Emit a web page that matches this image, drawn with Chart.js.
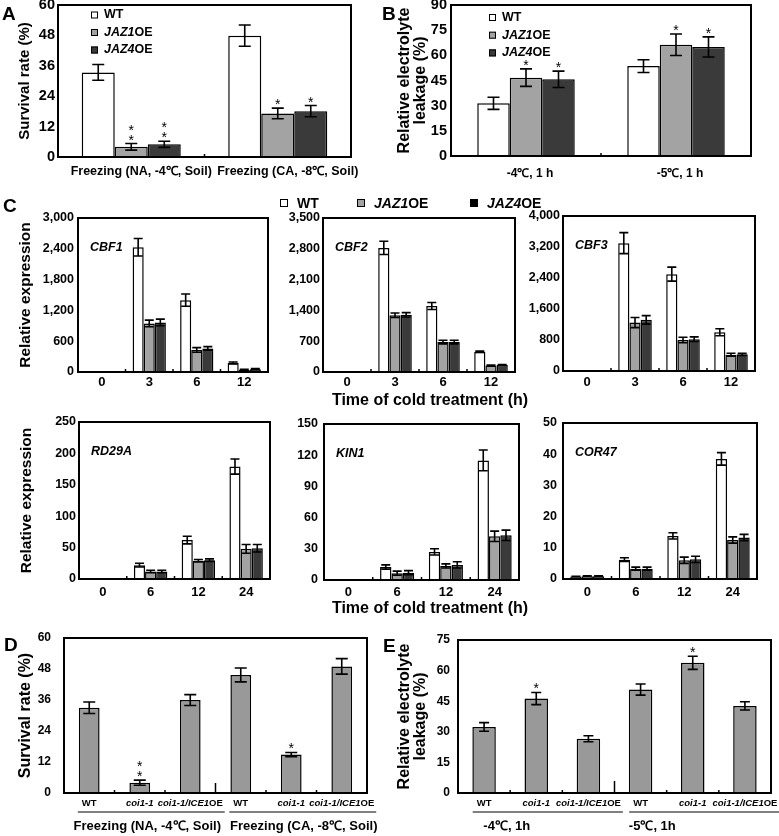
<!DOCTYPE html>
<html>
<head>
<meta charset="utf-8">
<script src="https://cdn.jsdelivr.net/npm/chart.js@4.4.1/dist/chart.umd.min.js"></script>
<style>
  body { margin: 0; background: #fff; }
  #fig { position: relative; width: 779px; height: 836px; overflow: hidden; background: #fff;
         font-family: "Liberation Sans", Arial, sans-serif; }
  #fig canvas { position: absolute; }
  .txt { position: absolute; font-weight: bold; line-height: 1; white-space: nowrap; color: #000; }
  .sq { position: absolute; width: 6px; height: 6px; border: 1px solid #000; }
</style>
</head>
<body>
<div id="fig"></div>
<script>
// ---- data ----
const seriesNames = ['WT', 'JAZ1OE', 'JAZ4OE'];

// A: survival rate
const freezeLabels = ['Freezing (NA, -4℃, Soil)', 'Freezing (CA, -8℃, Soil)'];
const aMean = [[33.4, 47.9], [4.0, 17.2], [5.0, 18.1]];
const aErr = [[3.1, 4.2], [1.3, 2.1], [1.2, 2.2]];
const aStars = [[0, 0], [2, 1], [2, 1]];
const aTicks = [0, 12, 24, 36, 48, 60];

// B: electrolyte leakage
const leakLabels = ['-4℃, 1 h', '-5℃, 1 h'];
const bMean = [[31.4, 53.6], [46.7, 66.3], [45.7, 65.0]];
const bErr = [[3.6, 3.8], [5.2, 6.4], [4.9, 6.0]];
const bStars = [[0, 0], [1, 1], [1, 1]];
const bTicks = [0, 15, 30, 45, 60, 75, 90];

// C: relative expression
const cbfHours = ['0', '3', '6', '12'];
const corHours = ['0', '6', '12', '24'];
const cbf1Mean = [[5, 2430, 1400, 176], [5, 946, 430, 45], [5, 965, 460, 55]];
const cbf1Err = [[0, 170, 120, 20], [0, 65, 45, 10], [0, 65, 35, 10]];
const cbf1Ticks = [0, 600, 1200, 1800, 2400, 3000];
const cbf2Mean = [[5, 2820, 1500, 460], [5, 1290, 680, 150], [5, 1300, 680, 160]];
const cbf2Err = [[0, 150, 80, 15], [0, 50, 40, 10], [0, 50, 40, 10]];
const cbf2Ticks = [0, 700, 1400, 2100, 2800, 3500];
const cbf3Mean = [[5, 3300, 2500, 1000], [5, 1250, 800, 420], [5, 1320, 820, 430]];
const cbf3Err = [[0, 270, 180, 90], [0, 130, 70, 40], [0, 110, 60, 30]];
const cbf3Ticks = [0, 800, 1600, 2400, 3200, 4000];
const rd29aMean = [[1, 22, 62, 179], [1, 12, 29, 48], [1, 12, 30, 49]];
const rd29aErr = [[0, 3, 6, 12], [0, 2, 2, 7], [0, 2, 2, 6]];
const rd29aTicks = [0, 50, 100, 150, 200, 250];
const kin1Mean = [[1, 12.5, 27, 115], [1, 6.5, 13.5, 42], [1, 7, 14.5, 43]];
const kin1Err = [[0, 2, 3, 10], [0, 2, 2, 5], [0, 2, 3, 5]];
const kin1Ticks = [0, 30, 60, 90, 120, 150];
const cor47Mean = [[0.8, 6.2, 13.8, 38.5], [0.9, 3.3, 6.0, 12.5], [0.9, 3.3, 6.3, 13.3]];
const cor47Err = [[0.1, 0.6, 1.0, 2.0], [0.1, 0.5, 1.0, 1.0], [0.1, 0.5, 1.0, 1.0]];
const cor47Ticks = [0, 10, 20, 30, 40, 50];

// D/E: coi1-1 and ICE1 overexpression
const genotypes = ['WT', 'coi1-1', 'coi1-1/ICE1OE', 'WT', 'coi1-1', 'coi1-1/ICE1OE'];
const dMean = [33.0, 4.0, 36.0, 45.7, 14.9, 49.0];
const dErr = [2.2, 1.0, 2.1, 2.7, 0.8, 3.0];
const dStars = [0, 2, 0, 0, 1, 0];
const eMean = [32.4, 46.3, 26.6, 50.7, 63.8, 42.7];
const eErr = [2.1, 3.0, 1.5, 2.7, 3.2, 2.0];
const eStars = [0, 1, 0, 0, 1, 0];
const eTicks = [0, 15, 30, 45, 60, 75];
const eGroups = ['-4℃, 1h', '-5℃, 1h'];

// ---- styling ----
const FONT = '"Liberation Sans", Arial, sans-serif';
const seriesFill = ['#ffffff', '#a3a3a3', '#3a3a3a'];
const singleFill = ['#999999'];

const fig = document.getElementById('fig');

function splitLabel(t) {
  if (t === 'WT') return [{ t, it: false }];
  const m = t.match(/^(.+?)(OE)$/);
  if (m) return [{ t: m[1], it: true }, { t: m[2], it: false }];
  return [{ t, it: true }];
}
function labelHtml(t) {
  return splitLabel(t).map(s => s.it ? `<i>${s.t}</i>` : s.t).join('');
}

function drawSegs(ctx, segs, x, y, size, align) {
  const fonts = segs.map(s => `${s.it ? 'italic ' : ''}bold ${size}px ${FONT}`);
  const widths = segs.map((s, i) => { ctx.font = fonts[i]; return ctx.measureText(s.t).width; });
  const total = widths.reduce((a, b) => a + b, 0);
  let cx = align === 'center' ? x - total / 2 : x;
  const start = cx;
  ctx.textAlign = 'left';
  ctx.textBaseline = 'middle';
  segs.forEach((s, i) => { ctx.font = fonts[i]; ctx.fillText(s.t, cx, y); cx += widths[i]; });
  return [start, start + total];
}

function addText(html, x, yMid, size, align) {
  const d = document.createElement('div');
  d.className = 'txt';
  d.innerHTML = html;
  d.style.fontSize = size + 'px';
  d.style.top = (yMid - size / 2) + 'px';
  if (align === 'center') {
    d.style.left = (x - 300) + 'px';
    d.style.width = '600px';
    d.style.textAlign = 'center';
  } else {
    d.style.left = x + 'px';
  }
  fig.appendChild(d);
}

function figPlugin(p) {
  return {
    id: 'fig',
    afterDatasetsDraw(chart) {
      const { ctx, chartArea: ca, scales: { x, y } } = chart;
      ctx.save();
      ctx.strokeStyle = '#000';
      ctx.fillStyle = '#000';
      ctx.lineWidth = 2;
      ctx.strokeRect(ca.left, ca.top, ca.right - ca.left, ca.bottom - ca.top);

      // small inward ticks between categories
      ctx.lineWidth = 1.5;
      for (let j = 1; j < p.labels.length; j++) {
        const px = (x.getPixelForValue(j - 1) + x.getPixelForValue(j)) / 2;
        const len = j === p.sepAt ? p.sepLen : 3;
        ctx.beginPath();
        ctx.moveTo(px, ca.bottom);
        ctx.lineTo(px, ca.bottom - len);
        ctx.stroke();
      }

      // error bars and significance stars
      ctx.lineWidth = 1.6;
      p.means.forEach((ser, i) => {
        const meta = chart.getDatasetMeta(i);
        ser.forEach((v, j) => {
          const e = p.errs[i][j];
          const bx = meta.data[j].x;
          const yt = y.getPixelForValue(v + e);
          if (e > 0) {
            const yb = y.getPixelForValue(Math.max(0, v - e));
            ctx.beginPath();
            ctx.moveTo(bx, yt); ctx.lineTo(bx, yb);
            ctx.moveTo(bx - p.cap, yt); ctx.lineTo(bx + p.cap, yt);
            ctx.moveTo(bx - p.cap, yb); ctx.lineTo(bx + p.cap, yb);
            ctx.stroke();
          }
          const n = p.stars ? p.stars[i][j] : 0;
          ctx.font = `14px ${FONT}`;
          ctx.textAlign = 'center';
          ctx.textBaseline = 'alphabetic';
          for (let k = 0; k < n; k++) ctx.fillText('*', bx, yt + 1 - k * 10);
        });
      });

      // gene name inside plot
      if (p.gene) drawSegs(ctx, [{ t: p.gene, it: true }], ca.left + 12, ca.top + 30, 12.5, 'left');

      // legend inside plot
      if (p.legend) {
        const L = p.legend;
        p.names.forEach((nm, i) => {
          const sx = ca.left + L.dx, sy = ca.top + L.dy + i * L.step;
          ctx.fillStyle = p.fills[i];
          ctx.fillRect(sx, sy - 3.5, 7, 7);
          ctx.lineWidth = 1;
          ctx.strokeRect(sx + 0.5, sy - 3, 6, 6);
          ctx.fillStyle = '#000';
          drawSegs(ctx, splitLabel(nm), sx + 13, sy, L.font, 'left');
        });
      }

      // custom category labels with group lines (D, E)
      if (p.customX) {
        const c = p.customX;
        const per = p.labels.length / c.groups.length;
        const ext = [];
        p.labels.forEach((lab, j) => {
          const [a, b] = drawSegs(ctx, splitLabel(lab), x.getPixelForValue(j), ca.bottom + c.labY, c.font, 'center');
          const g = Math.floor(j / per);
          ext[g] = ext[g] ? [Math.min(ext[g][0], a), Math.max(ext[g][1], b)] : [a, b];
        });
        ctx.lineWidth = 1;
        c.groups.forEach((gl, g) => {
          const [a, b] = ext[g];
          ctx.beginPath();
          ctx.moveTo(a - 4, ca.bottom + c.lineY);
          ctx.lineTo(b + 2, ca.bottom + c.lineY);
          ctx.stroke();
          drawSegs(ctx, [{ t: gl, it: false }], (a + b) / 2 + (c.shift ? c.shift[g] : 0), ca.bottom + c.groupY, c.groupFont, 'center');
        });
      }
      ctx.restore();
    }
  };
}

function makePanel(p) {
  const pt = p.pt ?? 10, pr = p.pr ?? 6;
  const yw = p.plot.l - p.left;
  const w = p.plot.r - p.left + pr;
  const h = p.plot.b - p.plot.t + pt + p.xh;
  const cv = document.createElement('canvas');
  cv.width = w; cv.height = h;
  cv.style.left = p.left + 'px';
  cv.style.top = (p.plot.t - pt) + 'px';
  cv.style.width = w + 'px'; cv.style.height = h + 'px';
  fig.appendChild(cv);

  const datasets = p.means.map((m, i) => ({
    label: p.names[i],
    data: m,
    backgroundColor: p.fills[i],
    borderColor: '#000',
    borderWidth: 1.5,
    barPercentage: 1,
    categoryPercentage: p.catPct,
  }));

  new Chart(cv, {
    type: 'bar',
    data: { labels: p.labels, datasets },
    options: {
      responsive: false,
      animation: false,
      devicePixelRatio: 1,
      layout: { padding: { top: pt, right: pr, left: 0, bottom: 0 } },
      plugins: { legend: { display: false }, tooltip: { enabled: false } },
      scales: {
        x: {
          grid: { display: false, drawTicks: false },
          border: { color: '#000', width: 2 },
          ticks: {
            display: !p.customX, autoSkip: false, maxRotation: 0, minRotation: 0,
            color: '#000', padding: p.xPad ?? 4, labelOffset: p.xShift ?? 0,
            font: { family: FONT, size: p.xFont ?? 13, weight: 'bold' },
          },
          afterFit(s) { s.height = p.xh; s.paddingLeft = 0; s.paddingRight = 0; },
        },
        y: {
          min: 0, max: p.ticks[p.ticks.length - 1],
          grid: { display: false, drawTicks: false },
          border: { color: '#000', width: 2 },
          afterBuildTicks(s) { s.ticks = p.ticks.map(v => ({ value: v })); },
          ticks: {
            color: '#000', padding: p.tickPad ?? 4,
            font: { family: FONT, size: p.tickFont ?? 12.5, weight: 'bold' },
            callback: v => Number(v).toLocaleString('en-US'),
          },
          title: {
            display: !!p.yTitle, text: p.yTitle, color: '#000',
            font: { family: FONT, size: p.titleFont ?? 15, weight: 'bold', lineHeight: p.titleLH ?? 1.2 },
            padding: { top: p.titlePad ?? 4, bottom: 0 },
          },
          afterFit(s) { s.width = yw; s.paddingTop = 0; s.paddingBottom = 0; },
        },
      },
    },
    plugins: [figPlugin(p)],
  });
}

const three = { names: seriesNames, fills: seriesFill };
const cRow = { ...three, catPct: 0.7, tickFont: 12.5, xFont: 13, cap: 4.5 };
const one = { names: ['value'], fills: singleFill };

const panels = [
  { ...three, left: 0, plot: { l: 58, t: 5, r: 351, b: 157 }, pr: 24, xh: 26,
    labels: freezeLabels, means: aMean, errs: aErr, stars: aStars, ticks: aTicks,
    catPct: 0.676, tickFont: 14.5, tickPad: 3, xFont: 12.5, xPad: 7, xShift: 10, cap: 6,
    yTitle: 'Survival rate (%)', titleFont: 15, titlePad: 16,
    legend: { dx: 33, dy: 10, step: 17.5, font: 12.5 } },
  { ...three, left: 390, plot: { l: 451, t: 5, r: 751, b: 156 }, pr: 12, xh: 26,
    labels: leakLabels, means: bMean, errs: bErr, stars: bStars, ticks: bTicks,
    catPct: 0.65, tickFont: 14.5, tickPad: 4, xFont: 12, xPad: 10, xShift: 4, cap: 6,
    yTitle: ['Relative electrolyte', 'leakage (%)'], titleFont: 16, titleLH: 1, titlePad: 7,
    legend: { dx: 38, dy: 12.5, step: 17.7, font: 12.5 } },
  { ...cRow, left: 0, plot: { l: 78, t: 218, r: 268, b: 372 }, xh: 22, xPad: 3, tickPad: 4,
    labels: cbfHours, means: cbf1Mean, errs: cbf1Err, ticks: cbf1Ticks, gene: 'CBF1',
    yTitle: 'Relative expression', titleFont: 15.5, titlePad: 16 },
  { ...cRow, left: 270, plot: { l: 323, t: 218, r: 515, b: 372 }, xh: 22, xPad: 3, tickPad: 3,
    labels: cbfHours, means: cbf2Mean, errs: cbf2Err, ticks: cbf2Ticks, gene: 'CBF2' },
  { ...cRow, left: 515, plot: { l: 563, t: 216, r: 755, b: 371 }, xh: 22, xPad: 4, tickPad: 3,
    labels: cbfHours, means: cbf3Mean, errs: cbf3Err, ticks: cbf3Ticks, gene: 'CBF3' },
  { ...cRow, left: 0, plot: { l: 79, t: 422, r: 270, b: 579 }, xh: 24, xPad: 6, tickPad: 3,
    labels: corHours, means: rd29aMean, errs: rd29aErr, ticks: rd29aTicks, gene: 'RD29A',
    yTitle: 'Relative expression', titleFont: 15.5, titlePad: 17.5 },
  { ...cRow, left: 272, plot: { l: 324, t: 424, r: 519, b: 580 }, xh: 24, xPad: 5, tickPad: 6,
    labels: corHours, means: kin1Mean, errs: kin1Err, ticks: kin1Ticks, gene: 'KIN1' },
  { ...cRow, left: 515, plot: { l: 563, t: 423, r: 757, b: 579 }, xh: 24, xPad: 6, tickPad: 6,
    labels: corHours, means: cor47Mean, errs: cor47Err, ticks: cor47Ticks, gene: 'COR47' },
  { ...one, left: 0, plot: { l: 64, t: 638, r: 367, b: 793 }, pr: 14, xh: 43,
    labels: genotypes, means: [dMean], errs: [dErr], stars: [dStars], ticks: aTicks,
    catPct: 0.41, tickFont: 12, tickPad: 13, cap: 6, sepAt: 3, sepLen: 10,
    customX: { font: 9.5, labY: 10, lineY: 19, groupY: 33, groupFont: 13, groups: freezeLabels, shift: [-5, 0] },
    yTitle: 'Survival rate (%)', titleFont: 16, titlePad: 15.5 },
  { ...one, left: 390, plot: { l: 458, t: 640, r: 771, b: 793 }, pr: 8, xh: 43,
    labels: genotypes, means: [eMean], errs: [eErr], stars: [eStars], ticks: eTicks,
    catPct: 0.45, tickFont: 12, tickPad: 8, cap: 5, sepAt: 3, sepLen: 12,
    customX: { font: 9.5, labY: 10, lineY: 19, groupY: 33, groupFont: 13, groups: eGroups, shift: [-42, -53] },
    yTitle: ['Relative electrolyte', 'leakage (%)'], titleFont: 16, titleLH: 1, titlePad: 6.5 },
];
panels.forEach(makePanel);

// panel letters
[['A', 2, 6], ['B', 382, 6], ['C', 3, 198], ['D', 4, 637], ['E', 383, 638]].forEach(([t, x, capTop]) => {
  addText(t, x, capTop + 7, 19, 'left');
});

// shared x titles for C
addText('Time of cold treatment (h)', 430, 400, 16, 'center');
addText('Time of cold treatment (h)', 430, 608, 16, 'center');

// figure legend for C
const legendX = [280, 357, 470];
seriesNames.forEach((nm, i) => {
  const sq = document.createElement('div');
  sq.className = 'sq';
  sq.style.left = legendX[i] + 'px';
  sq.style.top = '199px';
  sq.style.background = i === 2 ? '#000' : seriesFill[i];
  fig.appendChild(sq);
  addText(labelHtml(nm), legendX[i] + 17, 203, 14, 'left');
});
</script>
</body>
</html>
